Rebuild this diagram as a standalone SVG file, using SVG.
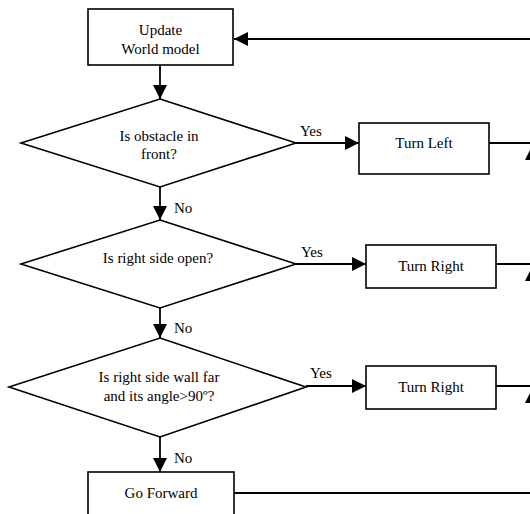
<svg xmlns="http://www.w3.org/2000/svg" width="530" height="514" viewBox="0 0 530 514">
<defs>
<style>
.box{fill:#fff;stroke:#000;stroke-width:1.6}
.ln{fill:none;stroke:#000;stroke-width:1.8}
.c{text-anchor:middle}
</style>
<marker id="ah" markerUnits="userSpaceOnUse" markerWidth="15" markerHeight="14" refX="14" refY="7" orient="auto">
<path d="M0,0 L14,7 L0,14 Z" fill="#000"/>
</marker>
</defs>
<rect width="530" height="514" fill="#fff"/>
<g font-family="'Liberation Serif', 'Times New Roman', 'DejaVu Serif', serif" font-size="15" fill="#000">
<g id="connectors">
<line class="ln" x1="532" y1="39" x2="234" y2="39" marker-end="url(#ah)"/>
<line class="ln" x1="160" y1="65" x2="160" y2="99" marker-end="url(#ah)"/>
<line class="ln" x1="296" y1="143" x2="359" y2="143" marker-end="url(#ah)"/>
<line class="ln" x1="489" y1="143" x2="532" y2="143"/>
<polygon points="531,148 525,160 537,160" fill="#000"/>
<line class="ln" x1="160" y1="187" x2="160" y2="220" marker-end="url(#ah)"/>
<line class="ln" x1="296" y1="264" x2="366" y2="264" marker-end="url(#ah)"/>
<line class="ln" x1="496" y1="264" x2="532" y2="264"/>
<polygon points="531,269 525,281 537,281" fill="#000"/>
<line class="ln" x1="160" y1="308" x2="160" y2="338" marker-end="url(#ah)"/>
<line class="ln" x1="306" y1="386" x2="366" y2="386" marker-end="url(#ah)"/>
<line class="ln" x1="496" y1="386" x2="532" y2="386"/>
<polygon points="531,391 525,403 537,403" fill="#000"/>
<line class="ln" x1="160" y1="437" x2="160" y2="472" marker-end="url(#ah)"/>
<line class="ln" x1="234" y1="493" x2="532" y2="493"/>
<text x="300" y="136">Yes</text>
<text x="301" y="257">Yes</text>
<text x="310" y="378">Yes</text>
<text x="174" y="213">No</text>
<text x="174" y="333">No</text>
<text x="174" y="463">No</text>
</g>
<g id="update">
<rect class="box" x="88" y="9" width="145" height="56"/>
<text class="c" x="160.5" y="35">Update</text>
<text class="c" x="160.5" y="54">World model</text>
</g>
<g id="obstacle">
<polygon class="box" points="160,99 296,143 160,187 21,143"/>
<text class="c" x="159" y="141">Is obstacle in</text>
<text class="c" x="159" y="159">front?</text>
</g>
<g id="turnleft">
<rect class="box" x="359" y="123" width="130" height="51"/>
<text class="c" x="424" y="148">Turn Left</text>
</g>
<g id="rightopen">
<polygon class="box" points="160,220 296,264 160,308 21,264"/>
<text class="c" x="158" y="263">Is right side open?</text>
</g>
<g id="turnright1">
<rect class="box" x="366" y="245" width="130" height="43"/>
<text class="c" x="431" y="271">Turn Right</text>
</g>
<g id="wallfar">
<polygon class="box" points="160,338 306,387 160,437 9,387"/>
<text class="c" x="159" y="382">Is right side wall far</text>
<text class="c" x="159" y="401">and its angle&gt;90º?</text>
</g>
<g id="turnright2">
<rect class="box" x="366" y="366" width="130" height="43"/>
<text class="c" x="431" y="392">Turn Right</text>
</g>
<g id="goforward">
<rect class="box" x="88" y="472" width="146" height="50"/>
<text class="c" x="161" y="498">Go Forward</text>
</g>
</g>
</svg>
